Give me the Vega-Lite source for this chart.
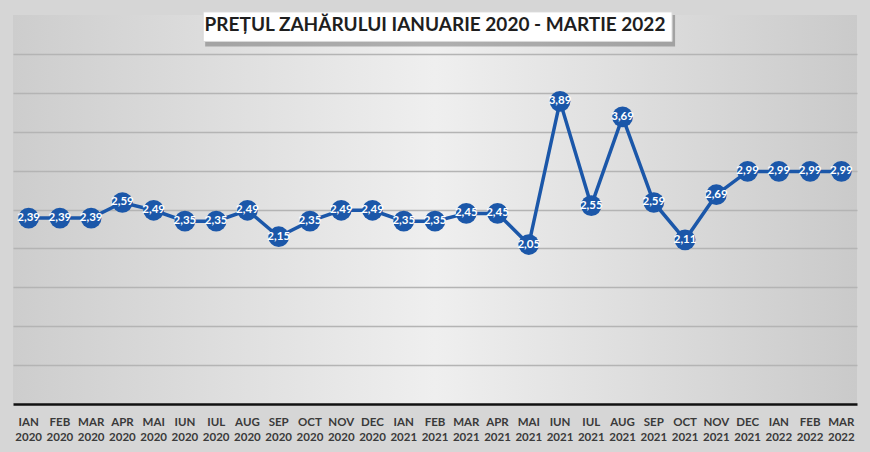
{
  "$schema": "https://vega.github.io/schema/vega-lite/v6.json",
  "width": 870,
  "height": 452,
  "autosize": {"type": "fit", "contains": "padding"},
  "padding": {"left": 13, "right": 13, "top": 10, "bottom": 9},
  "background": "#d6d6d6",
  "data": {
    "values": [
      {"luna": "IAN 2020", "pret": 2.39},
      {"luna": "FEB 2020", "pret": 2.39},
      {"luna": "MAR 2020", "pret": 2.39},
      {"luna": "APR 2020", "pret": 2.59},
      {"luna": "MAI 2020", "pret": 2.49},
      {"luna": "IUN 2020", "pret": 2.35},
      {"luna": "IUL 2020", "pret": 2.35},
      {"luna": "AUG 2020", "pret": 2.49},
      {"luna": "SEP 2020", "pret": 2.15},
      {"luna": "OCT 2020", "pret": 2.35},
      {"luna": "NOV 2020", "pret": 2.49},
      {"luna": "DEC 2020", "pret": 2.49},
      {"luna": "IAN 2021", "pret": 2.35},
      {"luna": "FEB 2021", "pret": 2.35},
      {"luna": "MAR 2021", "pret": 2.45},
      {"luna": "APR 2021", "pret": 2.45},
      {"luna": "MAI 2021", "pret": 2.05},
      {"luna": "IUN 2021", "pret": 3.89},
      {"luna": "IUL 2021", "pret": 2.55},
      {"luna": "AUG 2021", "pret": 3.69},
      {"luna": "SEP 2021", "pret": 2.59},
      {"luna": "OCT 2021", "pret": 2.11},
      {"luna": "NOV 2021", "pret": 2.69},
      {"luna": "DEC 2021", "pret": 2.99},
      {"luna": "IAN 2022", "pret": 2.99},
      {"luna": "FEB 2022", "pret": 2.99},
      {"luna": "MAR 2022", "pret": 2.99}
    ]
  },
  "layer": [
    {
      "mark": {"type": "line", "color": "#1b57a9", "strokeWidth": 3.5},
      "encoding": {
        "x": {
          "field": "luna",
          "type": "ordinal",
          "sort": null,
          "scale": {"paddingInner": 0, "paddingOuter": 0},
          "axis": {
            "title": null,
            "labelAngle": 0,
            "labelExpr": "split(datum.label, ' ')",
            "labelFont": "Lato",
            "labelFontSize": 11.5,
            "labelFontWeight": "bold",
            "labelColor": "#3a3a3a",
            "labelLineHeight": 15,
            "labelPadding": 12,
            "ticks": false,
            "domainColor": "#111111",
            "domainWidth": 2.5,
            "grid": false
          }
        },
        "y": {
          "field": "pret",
          "type": "quantitative",
          "scale": {"domain": [0, 5], "nice": false},
          "axis": {
            "title": null,
            "labels": false,
            "ticks": false,
            "domain": false,
            "values": [0.5, 1, 1.5, 2, 2.5, 3, 3.5, 4, 4.5],
            "grid": true,
            "gridColor": "#b4b4b4",
            "gridWidth": 1.5
          }
        }
      }
    },
    {
      "mark": {"type": "point", "shape": "circle", "filled": true, "opacity": 1, "size": 430, "color": "#1b57a9"},
      "encoding": {
        "x": {"field": "luna", "type": "ordinal", "sort": null},
        "y": {"field": "pret", "type": "quantitative"}
      }
    },
    {
      "mark": {"type": "text", "color": "white", "font": "Lato", "fontSize": 11.5, "fontWeight": "bold"},
      "encoding": {
        "x": {"field": "luna", "type": "ordinal", "sort": null},
        "y": {"field": "pret", "type": "quantitative"},
        "text": {"field": "pret", "type": "quantitative", "format": ".2f"}
      }
    },
    {
      "transform": [{"filter": "datum.luna == 'FEB 2021'"}],
      "mark": {"type": "rect", "color": "#3a3a3a", "opacity": 0.35, "xOffset": -11, "x2Offset": -10, "yOffset": 3, "y2Offset": 5},
      "encoding": {
        "x": {"datum": "IUL 2020", "type": "ordinal"},
        "x2": {"datum": "OCT 2021"},
        "y": {"datum": 5.04, "type": "quantitative"},
        "y2": {"datum": 4.66}
      }
    },
    {
      "transform": [{"filter": "datum.luna == 'FEB 2021'"}],
      "mark": {"type": "rect", "color": "#ffffff", "opacity": 1, "stroke": "#d8d8d8", "strokeWidth": 1, "xOffset": -13, "x2Offset": -13},
      "encoding": {
        "x": {"datum": "IUL 2020", "type": "ordinal"},
        "x2": {"datum": "OCT 2021"},
        "y": {"datum": 5.04, "type": "quantitative"},
        "y2": {"datum": 4.66}
      }
    },
    {
      "transform": [{"filter": "datum.luna == 'FEB 2021'"}],
      "mark": {"type": "text", "font": "Lato", "fontSize": 19, "fontWeight": "bold", "color": "#1e1e1e", "baseline": "alphabetic", "text": "PREȚUL ZAHĂRULUI IANUARIE 2020 - MARTIE 2022"},
      "encoding": {
        "x": {"field": "luna", "type": "ordinal", "sort": null},
        "y": {"datum": 4.8, "type": "quantitative"}
      }
    }
  ],
  "config": {
    "locale": {
      "number": {"decimal": ",", "thousands": ".", "grouping": [3], "currency": ["", " lei"]}
    },
    "view": {
      "stroke": null,
      "fill": {
        "gradient": "linear",
        "x1": 0, "y1": 0, "x2": 1, "y2": 0,
        "stops": [
          {"offset": 0, "color": "#cdcdcd"},
          {"offset": 0.5, "color": "#efefef"},
          {"offset": 1, "color": "#cacaca"}
        ]
      }
    }
  }
}
